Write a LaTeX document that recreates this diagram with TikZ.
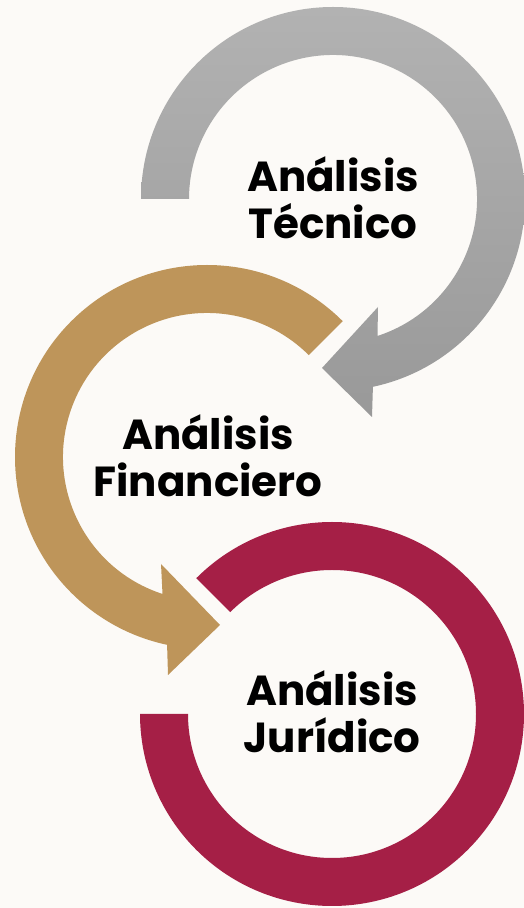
\documentclass[tikz,border=0pt]{standalone}
\usepackage{fontspec}
\setmainfont{Poppins}
\usetikzlibrary{calc}
\definecolor{bgcream}{HTML}{FCFAF7}
\definecolor{graytop}{HTML}{B2B2B2}
\definecolor{graybot}{HTML}{999999}
\definecolor{goldc}{HTML}{BE955A}
\definecolor{maroonc}{HTML}{A51F46}
\tikzset{
  lbl/.style={align=center, font=\bfseries\fontsize{42}{47}\selectfont, text=black, inner sep=0pt}
}
\begin{document}
\begin{tikzpicture}[x=1pt,y=1pt]
\fill[bgcream] (0,0) rectangle (524,908);
\useasboundingbox (0,0) rectangle (524,908);
% centers
\coordinate (G) at (333,709);
\coordinate (F) at (207,451);
\coordinate (J) at (332,194);
% gray arrow (Tecnico)
\coordinate (gho) at (372,491);
\coordinate (gtip) at (322,540);
\coordinate (ghi) at (378,601);
\shade[top color=graytop, bottom color=graybot]
  ($(G)+(180:192)$) arc[start angle=180, end angle=-78, radius=192]
  -- (gho) -- (gtip) -- (ghi)
  -- ($(G)+(-72:144)$) arc[start angle=-72, end angle=180, radius=144] -- cycle;
% gold arrow (Financiero)
\coordinate (fho) at (168,233);
\coordinate (ftip) at (220,283);
\coordinate (fhi) at (161,344);
\fill[goldc]
  ($(F)+(45:192)$) arc[start angle=45, end angle=258, radius=192]
  -- (fho) -- (ftip) -- (fhi)
  -- ($(F)+(252:144)$) arc[start angle=252, end angle=45, radius=144] -- cycle;
% maroon ring (Juridico)
\fill[maroonc]
  ($(J)+(135:192)$) arc[start angle=135, end angle=-180, radius=192]
  -- ($(J)+(180:144)$) arc[start angle=-180, end angle=135, radius=144] -- cycle;
% labels
\node[lbl] (tec) at (333,710) {Análisis\\Técnico};
\node[lbl] (fin) at (208,452) {Análisis\\Financiero};
\node[lbl] (jur) at (332,196) {Análisis\\Jurídico};
\end{tikzpicture}
\end{document}
